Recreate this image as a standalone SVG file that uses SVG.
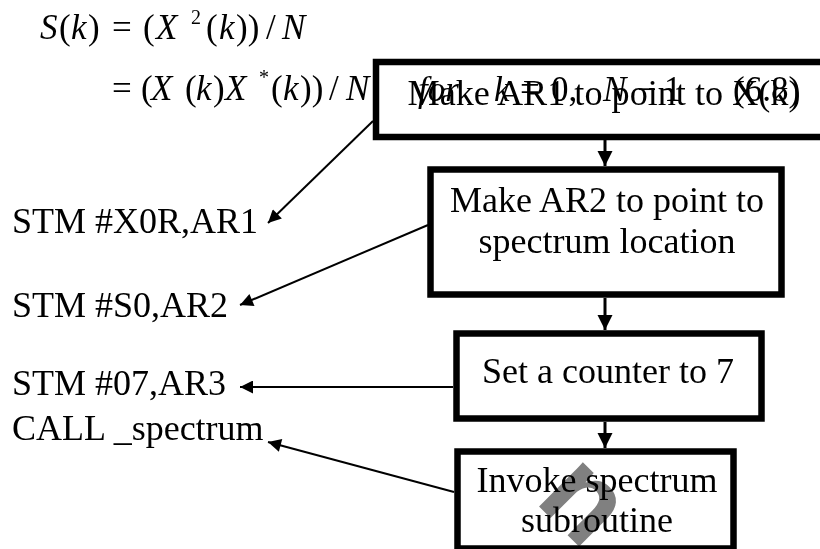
<svg xmlns="http://www.w3.org/2000/svg" width="820" height="549" viewBox="0 0 820 549">
<defs>
<style>
.t{font-family:"Liberation Serif","Times New Roman",serif;font-size:36px;fill:#000}
.e{font-size:35px}
.i{font-style:italic}
.sup{font-size:20px}
.box{fill:#fff;stroke:#000;stroke-width:6.5}
.flow{stroke:#000;stroke-width:3;fill:none}
.link{stroke:#000;stroke-width:2;fill:none}
.wm{font-family:"Liberation Sans",Arial,sans-serif;font-weight:bold;font-size:118px;fill:#808080;mix-blend-mode:multiply}
</style>
<marker id="ah" viewBox="0 0 10 10" refX="10" refY="5" markerWidth="9" markerHeight="6.5" markerUnits="strokeWidth" orient="auto"><path d="M0,0 L10,5 L0,10 z" fill="#000"/></marker>
<marker id="fh" viewBox="0 0 10 10" refX="10" refY="5" markerWidth="5" markerHeight="5.5" markerUnits="strokeWidth" orient="auto"><path d="M0,0 L10,5 L0,10 z" fill="#000"/></marker>
</defs>
<rect width="820" height="549" fill="#fff"/>

<g id="equation">
<text class="t e" y="39"><tspan class="i" x="40">S</tspan><tspan x="59">(</tspan><tspan class="i" x="71">k</tspan><tspan x="88">)</tspan><tspan x="112">=</tspan><tspan x="143">(</tspan><tspan class="i" x="156">X</tspan><tspan class="sup" x="191" y="24">2</tspan><tspan x="206" y="39">(</tspan><tspan class="i" x="219">k</tspan><tspan x="236">))</tspan><tspan x="266">/</tspan><tspan class="i" x="282">N</tspan></text>
<text class="t e" y="100"><tspan x="112">=</tspan><tspan x="141">(</tspan><tspan class="i" x="151">X</tspan><tspan x="185">(</tspan><tspan class="i" x="196">k</tspan><tspan x="213">)</tspan><tspan class="i" x="225">X</tspan><tspan class="sup" x="259" y="84">*</tspan><tspan x="271" y="100">(</tspan><tspan class="i" x="283">k</tspan><tspan x="300">))</tspan><tspan x="329">/</tspan><tspan class="i" x="346">N</tspan></text>
</g>

<g id="node1">
<rect class="box" x="376" y="62" width="452" height="75"/>
<text class="t e" y="101"><tspan class="i" x="418">for</tspan><tspan class="i" x="494">k</tspan><tspan x="520">=</tspan><tspan x="551">0,</tspan><tspan class="i" x="603">N</tspan><tspan x="637">−</tspan><tspan x="664">1</tspan><tspan x="733">(6.8)</tspan></text>
<text class="t" x="604" y="105" text-anchor="middle" textLength="393" lengthAdjust="spacingAndGlyphs">Make AR1 to point to X(k)</text>
</g>

<g id="node2">
<rect class="box" x="430.5" y="169.5" width="351" height="125"/>
<text class="t" x="607" y="212" text-anchor="middle">Make AR2 to point to</text>
<text class="t" x="607" y="253" text-anchor="middle">spectrum location</text>
</g>

<g id="node3">
<rect class="box" x="456.5" y="333.5" width="305" height="85"/>
<text class="t" x="608" y="383" text-anchor="middle">Set a counter to 7</text>
</g>

<g id="node4">
<rect class="box" x="457.5" y="451.5" width="276" height="97"/>
<text class="t" x="597" y="492" text-anchor="middle">Invoke spectrum</text>
<text class="t" x="597" y="532" text-anchor="middle">subroutine</text>
</g>

<g id="labels">
<text class="t" x="12" y="233">STM #X0R,AR1</text>
<text class="t" x="12" y="317">STM #S0,AR2</text>
<text class="t" x="12" y="395">STM #07,AR3</text>
<text class="t" x="12" y="440">CALL _spectrum</text>
</g>

<g id="connectors">
<line class="flow" x1="605" y1="140" x2="605" y2="166" marker-end="url(#fh)"/>
<line class="flow" x1="605" y1="298" x2="605" y2="330" marker-end="url(#fh)"/>
<line class="flow" x1="605" y1="422" x2="605" y2="448" marker-end="url(#fh)"/>
<line class="link" x1="373" y1="121" x2="268" y2="223" marker-end="url(#ah)"/>
<line class="link" x1="428" y1="225" x2="240" y2="305" marker-end="url(#ah)"/>
<line class="link" x1="453" y1="387" x2="240" y2="387" marker-end="url(#ah)"/>
<line class="link" x1="454" y1="492" x2="268" y2="442" marker-end="url(#ah)"/>
</g>

<text class="wm" x="0" y="30" text-anchor="middle" transform="translate(580,505) rotate(45)">n</text>
</svg>
